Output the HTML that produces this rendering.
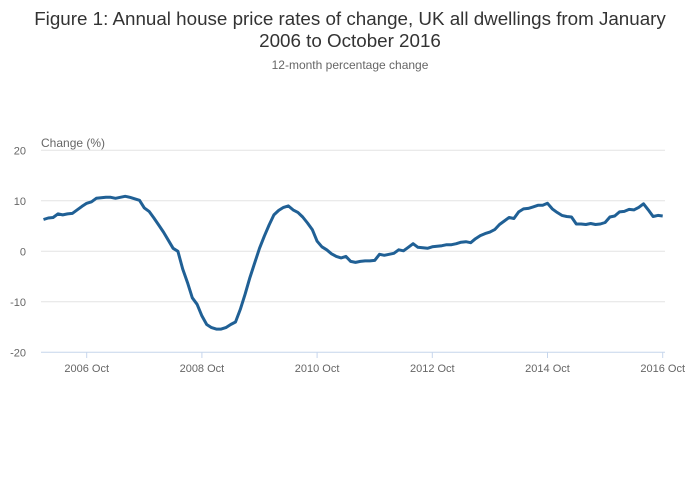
<!DOCTYPE html>
<html><head><meta charset="utf-8"><style>
body{margin:0;background:#fff;font-family:"Liberation Sans",sans-serif;}
#wrap{position:relative;width:700px;height:502px;overflow:hidden;}
</style></head><body>
<div id="wrap">
<svg id="chart" width="700" height="502">
<text x="350" y="25" text-anchor="middle" font-size="18.8" fill="#333">Figure 1: Annual house price rates of change, UK all dwellings from January</text>
<text x="350" y="47" text-anchor="middle" font-size="18.8" fill="#333">2006 to October 2016</text>
<text x="350" y="69" text-anchor="middle" font-size="12" fill="#666">12-month percentage change</text>
<text x="41" y="147" font-size="12" fill="#666">Change (%)</text>
<g id="grid"></g><g id="xaxis"></g><g id="series"></g>
</svg>
</div>
<script>
const yTicks=[20,10,0,-10,-20];
const xTickLabels=["2006 Oct","2008 Oct","2010 Oct","2012 Oct","2014 Oct","2016 Oct"];
const xTickMonths=[9,33,57,81,105,129];
const values=[6.3,6.6,6.7,7.4,7.2,7.4,7.5,8.2,8.9,9.5,9.8,10.5,
10.6,10.7,10.7,10.5,10.7,10.9,10.7,10.4,10.1,8.6,7.9,6.6,
5.2,3.8,2.2,0.6,0.0,-3.5,-6.2,-9.2,-10.5,-12.8,-14.5,-15.1,
-15.4,-15.4,-15.1,-14.5,-14.0,-11.5,-8.5,-5.2,-2.3,0.6,3.0,5.2,
7.2,8.1,8.7,9.0,8.2,7.7,6.8,5.6,4.3,2.0,0.9,0.3,
-0.5,-1.0,-1.3,-1.0,-2.0,-2.2,-2.0,-1.9,-1.9,-1.8,-0.6,-0.8,
-0.6,-0.4,0.3,0.1,0.8,1.5,0.8,0.7,0.6,0.9,1.0,1.1,
1.3,1.3,1.5,1.8,1.9,1.7,2.5,3.1,3.5,3.8,4.3,5.3,
6.0,6.7,6.5,7.8,8.4,8.5,8.8,9.1,9.1,9.5,8.4,7.7,
7.1,6.9,6.8,5.4,5.4,5.3,5.5,5.3,5.4,5.7,6.8,7.0,
7.8,7.9,8.3,8.2,8.7,9.4,8.2,6.9,7.1,7.0];
const NS="http://www.w3.org/2000/svg";
function xs(m){return 43.5+m*4.8;}
function ys(v){return 251.3-v*5.05;}
const grid=document.getElementById('grid');
yTicks.forEach(t=>{
  const l=document.createElementNS(NS,'line');
  l.setAttribute('x1',41);l.setAttribute('x2',665);
  l.setAttribute('y1',ys(t));l.setAttribute('y2',ys(t));
  l.setAttribute('stroke',t===-20?'#c6d6ec':'#e4e4e4');l.setAttribute('stroke-width',1);
  
  
  grid.appendChild(l);
  const tx=document.createElementNS(NS,'text');
  tx.setAttribute('x',26);tx.setAttribute('y',ys(t)+4);
  tx.setAttribute('text-anchor','end');tx.setAttribute('font-size','11');tx.setAttribute('fill','#666');
  tx.textContent=t;
  
  
  grid.appendChild(tx);
});
const xa=document.getElementById('xaxis');
xTickMonths.forEach((m,i)=>{
  const l=document.createElementNS(NS,'line');
  l.setAttribute('x1',xs(m));l.setAttribute('x2',xs(m));
  l.setAttribute('y1',352);l.setAttribute('y2',358);
  l.setAttribute('stroke','#c6d6ec');
  
  
  xa.appendChild(l);
  const tx=document.createElementNS(NS,'text');
  tx.setAttribute('x',xs(m));tx.setAttribute('y',372);
  tx.setAttribute('text-anchor','middle');tx.setAttribute('font-size','11');tx.setAttribute('fill','#666');
  tx.textContent=xTickLabels[i];
  
  
  xa.appendChild(tx);
});
const p=document.createElementNS(NS,'path');
p.setAttribute('d',values.map((v,i)=>(i?'L':'M')+xs(i).toFixed(1)+','+ys(v).toFixed(1)).join(''));
p.setAttribute('fill','none');p.setAttribute('stroke','#206095');p.setAttribute('stroke-width',3);
p.setAttribute('stroke-linejoin','round');


document.getElementById('series').appendChild(p);
</script>
</body></html>
